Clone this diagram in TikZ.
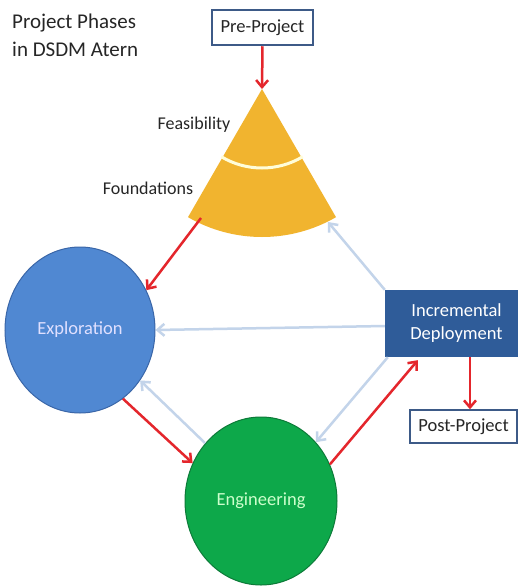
\documentclass[tikz,border=0pt]{standalone}
\usepackage{fontspec}
\setmainfont{Carlito}
\usetikzlibrary{arrows.meta,shapes.geometric,calc}
\definecolor{gold}{HTML}{F1B42F}
\definecolor{explfill}{HTML}{5088D2}
\definecolor{expldraw}{HTML}{3A66A8}
\definecolor{engfill}{HTML}{0DA84A}
\definecolor{engdraw}{HTML}{0C7A38}
\definecolor{incfill}{HTML}{2F5C99}
\definecolor{boxline}{HTML}{3D5A87}
\definecolor{paleblue}{HTML}{C3D4EA}
\definecolor{redarrow}{HTML}{E4262C}
\definecolor{txt}{HTML}{262626}
\tikzset{
  lbl/.style={font=\fontsize{18}{22}\selectfont, text=txt, inner sep=0pt},
  phase/.style={ellipse, line width=1pt, inner sep=0pt, font=\fontsize{18.5}{22}\selectfont},
  endbox/.style={draw=boxline, fill=white, rectangle, inner sep=0pt, font=\fontsize{18.5}{22}\selectfont, text=txt},
  redarr/.style={draw=redarrow, line width=2.5pt, -{Straight Barb[length=7pt,width=12pt]}},
  bluearr/.style={draw=paleblue, line width=2.5pt, -{Straight Barb[length=7pt,width=12pt]}},
}
\begin{document}
\begin{tikzpicture}[x=1pt,y=-1pt]
\clip (0,0) rectangle (518,587);
\fill[white] (0,0) rectangle (518,587);

% title
\node[lbl, anchor=north west, align=left, font=\fontsize{21}{28}\selectfont] (title) at (12,14) {Project Phases\\in DSDM Atern};

% wedge (Feasibility / Foundations)
\coordinate (apex) at (262,89);
\fill[gold] (apex) -- ++(120:148) arc[start angle=120, end angle=60, radius=148] -- cycle;
\draw[draw=white!85!yellow, line width=3pt] ($(apex)+(121:79)$) arc[start angle=121, end angle=59, radius=79];
\node[lbl] (feas) at (194,125) {Feasibility};
\node[lbl] (found) at (148,188) {Foundations};
\coordinate (wedgeL) at (201,218);
\coordinate (wedgeR) at (328,222);

% boxes
\node[endbox, line width=2.5pt, minimum width=101pt, minimum height=35pt] (pre) at (262.5,27.5) {Pre-Project};
\node[rectangle, fill=incfill, minimum width=143pt, minimum height=67pt, inner sep=0pt, align=center,
      font=\fontsize{18.5}{23}\selectfont, text=white] (inc) at (456.5,323.5) {Incremental\\Deployment};
\node[endbox, line width=1.5pt, minimum width=107pt, minimum height=33pt] (post) at (463.5,426.5) {Post-Project};

% phases
\node[phase, fill=explfill, draw=expldraw, minimum width=150pt, minimum height=166pt, text=white!88!blue] (expl) at (80,330) {Exploration};
\node[phase, fill=engfill, draw=engdraw, minimum width=152pt, minimum height=168pt, text=white!80!green] (eng) at (261,501) {Engineering};

% connectors
\draw[redarr] (pre.south) -- (apex);
\draw[redarr] (wedgeL) -- (expl.31);
\draw[bluearr] (inc.north west) -- (wedgeR);
\draw[bluearr] (inc.west |- 0,326) -- (expl.east);
\draw[bluearr] ([xshift=3pt]inc.south west) -- (eng.47);
\draw[redarr] (eng.28) -- ([xshift=33pt,yshift=-3pt]inc.south west);
\draw[redarr] (expl.-58) -- (eng.151);
\draw[bluearr] (eng.134) -- (expl.-40);
\coordinate (incout) at ([xshift=13.5pt]inc.south);
\draw[redarr] (incout) -- (incout |- post.north);
\end{tikzpicture}
\end{document}
